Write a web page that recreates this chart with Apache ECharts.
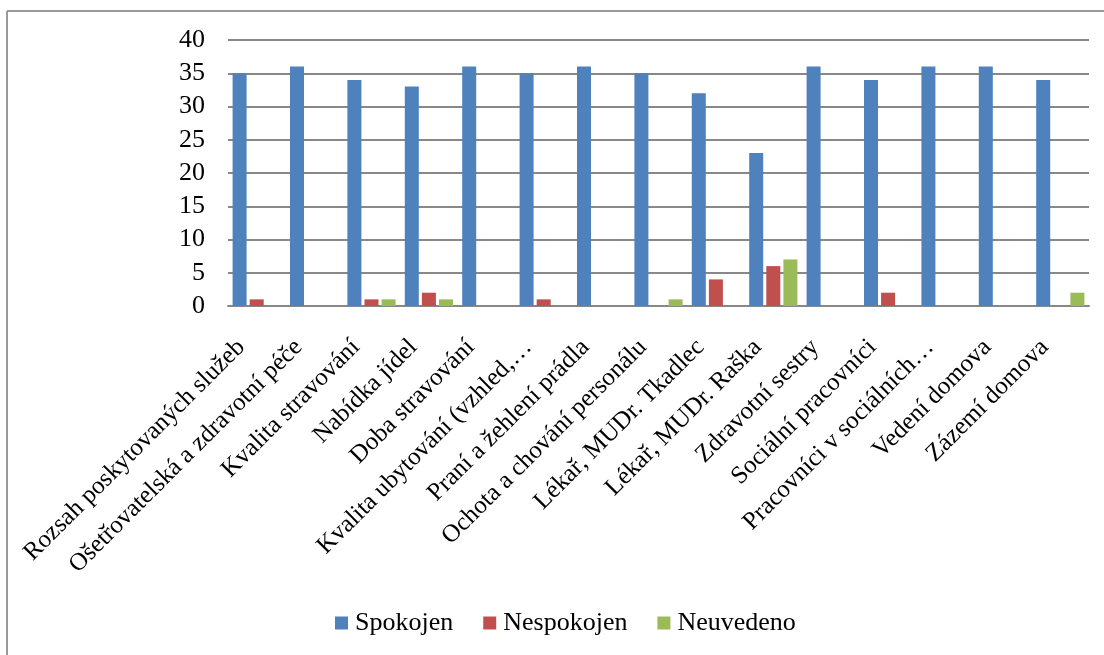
<!DOCTYPE html>
<html>
<head>
    <meta charset="utf-8">
    <title>Spokojenost</title>
    <script src="https://cdn.jsdelivr.net/npm/echarts@6/dist/echarts.min.js"></script>
    <style>
        html, body { margin: 0; padding: 0; background: #fff; }
    </style>
</head>
<body>
    <div id="main" style="width: 1104px;height:655px;"></div>
    <script type="text/javascript">
        // categories as shown on the axis (two are cut off in the original)
        var categories = [
            'Rozsah poskytovaných služeb',
            'Ošetřovatelská a zdravotní péče',
            'Kvalita stravování',
            'Nabídka jídel',
            'Doba stravování',
            'Kvalita ubytování (vzhled,…',
            'Praní a žehlení prádla',
            'Ochota a chování personálu',
            'Lékař, MUDr. Tkadlec',
            'Lékař, MUDr. Raška',
            'Zdravotní sestry',
            'Sociální pracovníci',
            'Pracovníci v sociálních…',
            'Vedení domova',
            'Zázemí domova'
        ];
        var spokojen   = [35, 36, 34, 33, 36, 35, 36, 35, 32, 23, 36, 34, 36, 36, 34];
        var nespokojen = [1, 0, 1, 2, 0, 1, 0, 0, 4, 6, 0, 2, 0, 0, 0];
        var neuvedeno  = [0, 0, 1, 1, 0, 0, 0, 1, 0, 7, 0, 0, 0, 0, 2];
        var yTicks = [0, 5, 10, 15, 20, 25, 30, 35, 40];

        var font = 'Liberation Serif, Times New Roman, serif';
        var myChart = echarts.init(document.getElementById('main'));

        var option = {
            animation: false,
            color: ['#4f81bd', '#c0504d', '#9bbb59'],
            textStyle: { fontFamily: font, color: '#000' },
            graphic: [
                { type: 'line', shape: { x1: 7, y1: 11, x2: 1104, y2: 11 },
                  style: { stroke: '#999', lineWidth: 2 } },
                { type: 'line', shape: { x1: 7, y1: 11, x2: 7, y2: 655 },
                  style: { stroke: '#999', lineWidth: 2 } }
            ],
            legend: {
                bottom: 14,
                left: 330,
                itemWidth: 13,
                itemHeight: 13,
                itemGap: 30,
                icon: 'rect',
                textStyle: { fontFamily: font, fontSize: 26, color: '#000', padding: [0, 0, 0, 2] },
                data: ['Spokojen', 'Nespokojen', 'Neuvedeno']
            },
            grid: { left: 228, right: 15, top: 40, bottom: 349 },
            xAxis: {
                type: 'category',
                data: categories,
                axisTick: { show: false },
                axisLine: { lineStyle: { color: '#888', width: 2 } },
                axisLabel: {
                    rotate: 45,
                    interval: 0,
                    margin: 22,
                    fontFamily: font,
                    fontSize: 25,
                    color: '#000',
                    padding: [0, 22, 0, 0]
                }
            },
            yAxis: {
                type: 'value',
                min: yTicks[0],
                max: yTicks[yTicks.length - 1],
                interval: 5,
                axisLine: { show: false },
                axisTick: { show: false },
                splitLine: { lineStyle: { color: '#888', width: 2 } },
                axisLabel: { fontFamily: font, fontSize: 26, color: '#000', margin: 23 }
            },
            series: [
                { name: 'Spokojen', type: 'bar', data: spokojen,
                  barGap: '22%', barCategoryGap: '16%' },
                { name: 'Nespokojen', type: 'bar', data: nespokojen },
                { name: 'Neuvedeno', type: 'bar', data: neuvedeno }
            ]
        };
        myChart.setOption(option);
    </script>
</body>
</html>
